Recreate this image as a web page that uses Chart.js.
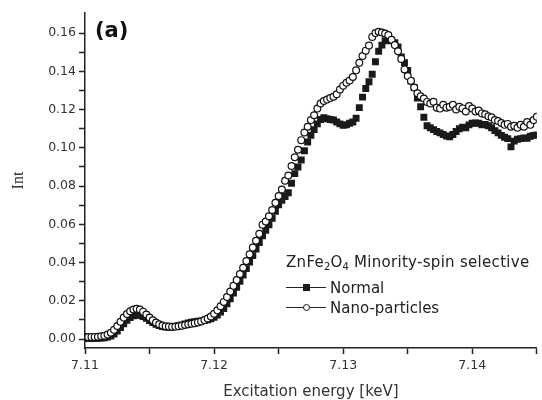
<!DOCTYPE html>
<html>
<head>
<meta charset="utf-8">
<script src="https://cdn.jsdelivr.net/npm/chart.js@4.4.1/dist/chart.umd.min.js"></script>
<style>
  body { margin: 0; background: #fff; }
  #wrap { position: relative; width: 542px; height: 400px; }
  #tag { position: absolute; left: 95px; top: 18px; font: bold 21px 'DejaVu Sans'; line-height: 25px; color: #111; }
  #legend { position: absolute; left: 286px; top: 251.5px; font-family: 'DejaVu Sans'; font-size: 15px; color: #222; line-height: 20px; white-space: nowrap; }
  #legend .title { margin-bottom: 6px; letter-spacing: 0.3px; }
  #legend sub { font-size: 10px; vertical-align: -3px; line-height: 0; letter-spacing: 0; }
  #legend .sym { display: inline-block; position: relative; width: 40px; height: 20px; vertical-align: top; margin-right: 4px; }
  #legend .sym::before { content: ""; position: absolute; left: 0; right: 0; top: 9px; height: 1px; background: #222; }
  #legend .sq, #legend .ci { position: absolute; left: 16.5px; top: 6px; width: 7px; height: 7px; box-sizing: border-box; }
  #legend .sq { background: #1a1a1a; }
  #legend .ci { background: #fff; border: 1.2px solid #111; border-radius: 50%; }
</style>
</head>
<body>
<div id="wrap">
  <canvas id="chart"></canvas>
  <div id="tag">(a)</div>
  <div id="legend">
    <div class="title">ZnFe<sub>2</sub>O<sub>4</sub> Minority-spin selective</div>
    <div><span class="sym"><i class="sq"></i></span>Normal</div>
    <div><span class="sym"><i class="ci"></i></span>Nano-particles</div>
  </div>
</div>
<script>
// excitation energy (keV)
const energy = [
  7.11000, 7.11025, 7.11050, 7.11075, 7.11100, 7.11125, 7.11150, 7.11175, 7.11200, 7.11225,
  7.11250, 7.11275, 7.11300, 7.11325, 7.11350, 7.11375, 7.11400, 7.11425, 7.11450, 7.11475,
  7.11500, 7.11525, 7.11550, 7.11575, 7.11600, 7.11625, 7.11650, 7.11675, 7.11700, 7.11725,
  7.11750, 7.11775, 7.11800, 7.11825, 7.11850, 7.11875, 7.11900, 7.11925, 7.11950, 7.11975,
  7.12000, 7.12025, 7.12050, 7.12075, 7.12100, 7.12125, 7.12150, 7.12175, 7.12200, 7.12225,
  7.12250, 7.12275, 7.12300, 7.12325, 7.12350, 7.12375, 7.12400, 7.12425, 7.12450, 7.12475,
  7.12500, 7.12525, 7.12550, 7.12575, 7.12600, 7.12625, 7.12650, 7.12675, 7.12700, 7.12725,
  7.12750, 7.12775, 7.12800, 7.12825, 7.12850, 7.12875, 7.12900, 7.12925, 7.12950, 7.12975,
  7.13000, 7.13025, 7.13050, 7.13075, 7.13100, 7.13125, 7.13150, 7.13175, 7.13200, 7.13225,
  7.13250, 7.13275, 7.13300, 7.13325, 7.13350, 7.13375, 7.13400, 7.13425, 7.13450, 7.13475,
  7.13500, 7.13525, 7.13550, 7.13575, 7.13600, 7.13625, 7.13650, 7.13675, 7.13700, 7.13725,
  7.13750, 7.13775, 7.13800, 7.13825, 7.13850, 7.13875, 7.13900, 7.13925, 7.13950, 7.13975,
  7.14000, 7.14025, 7.14050, 7.14075, 7.14100, 7.14125, 7.14150, 7.14175, 7.14200, 7.14225,
  7.14250, 7.14275, 7.14300, 7.14325, 7.14350, 7.14375, 7.14400, 7.14425, 7.14450, 7.14475,
  7.14500
];

const normal = [
  0.0003, 0.0003, 0.0003, 0.0004, 0.0004, 0.0005, 0.0007, 0.0010, 0.0016, 0.0026,
  0.0042, 0.0060, 0.0080, 0.0098, 0.0112, 0.0121, 0.0125, 0.0124, 0.0118, 0.0108,
  0.0097, 0.0086, 0.0077, 0.0070, 0.0065, 0.0062, 0.0061, 0.0062, 0.0065, 0.0069,
  0.0074, 0.0079, 0.0084, 0.0088, 0.0091, 0.0093, 0.0095, 0.0097, 0.0101, 0.0106,
  0.0114, 0.0125, 0.0141, 0.0160, 0.0184, 0.0211, 0.0240, 0.0270, 0.0302, 0.0335,
  0.0368, 0.0402, 0.0436, 0.0470, 0.0505, 0.0540, 0.0568, 0.0598, 0.0632, 0.0668,
  0.0702, 0.0725, 0.0745, 0.0765, 0.0815, 0.0865, 0.0900, 0.0936, 0.0985, 0.1030,
  0.1065, 0.1095, 0.1125, 0.1148, 0.1158, 0.1152, 0.1148, 0.1145, 0.1135, 0.1125,
  0.1118, 0.1120, 0.1128, 0.1135, 0.1155, 0.1210, 0.1265, 0.1310, 0.1345, 0.1385,
  0.1450, 0.1505, 0.1537, 0.1560, 0.1563, 0.1560, 0.1550, 0.1528, 0.1475, 0.1445,
  0.1405, 0.1350, 0.1315, 0.1260, 0.1215, 0.1160, 0.1115, 0.1105, 0.1095, 0.1085,
  0.1078, 0.1070, 0.1062, 0.1058, 0.1070, 0.1085, 0.1100, 0.1108, 0.1105, 0.1120,
  0.1128, 0.1130, 0.1128, 0.1120, 0.1122, 0.1115, 0.1105, 0.1090, 0.1078, 0.1065,
  0.1055, 0.1048, 0.1005, 0.1035, 0.1045, 0.1048, 0.1052, 0.1050, 0.1060, 0.1065,
  0.1067
];

const nano = [
  0.0010, 0.0010, 0.0011, 0.0011, 0.0012, 0.0014, 0.0017, 0.0023, 0.0033, 0.0048,
  0.0068, 0.0090, 0.0112, 0.0131, 0.0145, 0.0154, 0.0158, 0.0154, 0.0143, 0.0128,
  0.0112, 0.0098, 0.0086, 0.0077, 0.0071, 0.0067, 0.0065, 0.0064, 0.0065, 0.0067,
  0.0070, 0.0073, 0.0077, 0.0080, 0.0083, 0.0087, 0.0092, 0.0099, 0.0107, 0.0118,
  0.0132, 0.0150, 0.0171, 0.0194, 0.0220, 0.0248, 0.0278, 0.0308, 0.0340, 0.0373,
  0.0408, 0.0443, 0.0478, 0.0514, 0.0550, 0.0598, 0.0614, 0.0642, 0.0675, 0.0712,
  0.0748, 0.0782, 0.0828, 0.0855, 0.0905, 0.0950, 0.0990, 0.1040, 0.1080, 0.1110,
  0.1145, 0.1170, 0.1205, 0.1232, 0.1245, 0.1252, 0.1260, 0.1267, 0.1280, 0.1305,
  0.1325, 0.1340, 0.1352, 0.1370, 0.1405, 0.1445, 0.1480, 0.1508, 0.1535, 0.1580,
  0.1600, 0.1607, 0.1603, 0.1598, 0.1590, 0.1565, 0.1537, 0.1505, 0.1465, 0.1410,
  0.1375, 0.1350, 0.1315, 0.1285, 0.1270, 0.1258, 0.1240, 0.1232, 0.1241, 0.1210,
  0.1205, 0.1225, 0.1210, 0.1215, 0.1225, 0.1200, 0.1215, 0.1206, 0.1190, 0.1218,
  0.1205, 0.1190, 0.1195, 0.1180, 0.1175, 0.1165, 0.1160, 0.1145, 0.1140, 0.1130,
  0.1120, 0.1125, 0.1110, 0.1115, 0.1105, 0.1120, 0.1110, 0.1135, 0.1120, 0.1145,
  0.1162
];

const xTicks = [7.11, 7.115, 7.12, 7.125, 7.13, 7.135, 7.14, 7.145];
const xTickLabels = ["7.11", "", "7.12", "", "7.13", "", "7.14", ""];
const yTicks = [0, 0.01, 0.02, 0.03, 0.04, 0.05, 0.06, 0.07, 0.08, 0.09, 0.10, 0.11, 0.12, 0.13, 0.14, 0.15, 0.16];
const yTickLabels = ["0.00", "", "0.02", "", "0.04", "", "0.06", "", "0.08", "", "0.10", "", "0.12", "", "0.14", "", "0.16"];

const toPoints = ys => energy.map((x, i) => ({ x: x, y: ys[i] }));

const tickFont = { family: "DejaVu Sans", size: 12.5 };
const axisGrid = { drawOnChartArea: false, drawTicks: true, tickLength: 6, tickColor: "#222", tickWidth: 1.5 };
const axisBorder = { color: "#222", width: 1.5 };

new Chart(document.getElementById("chart"), {
  type: "scatter",
  data: {
    datasets: [
      {
        label: "Nano-particles",
        data: toPoints(nano),
        pointStyle: "circle",
        pointRadius: 3.4,
        pointBorderWidth: 1.2,
        pointBackgroundColor: "#fff",
        pointBorderColor: "#111",
        order: 0
      },
      {
        label: "Normal",
        data: toPoints(normal),
        pointStyle: "rect",
        pointRadius: 4.9,
        pointBorderWidth: 0,
        pointBackgroundColor: "#1a1a1a",
        pointBorderColor: "#1a1a1a",
        order: 1
      }
    ]
  },
  options: {
    responsive: true,
    maintainAspectRatio: false,
    animation: false,
    layout: { padding: { top: 13, right: 1, left: 0, bottom: 0 } },
    plugins: { legend: { display: false }, tooltip: { enabled: false } },
    scales: {
      x: {
        type: "linear",
        min: 7.11,
        max: 7.145,
        afterBuildTicks: s => { s.ticks = xTicks.map(v => ({ value: v })); },
        afterFit: s => { s.height = 52; },
        ticks: { callback: (v, i) => xTickLabels[i], font: tickFont, color: "#333", padding: 4, maxRotation: 0, autoSkip: false },
        grid: axisGrid,
        border: axisBorder,
        title: { display: true, text: "Excitation energy [keV]", font: { family: "DejaVu Sans", size: 15, lineHeight: 1 }, color: "#333", padding: { top: 0, bottom: 0 } }
      },
      y: {
        min: -0.0047,
        max: 0.1705,
        afterBuildTicks: s => { s.ticks = yTicks.map(v => ({ value: v })); },
        afterFit: s => { s.width = 85; },
        ticks: { callback: (v, i) => yTickLabels[i], font: tickFont, color: "#333", padding: 3, autoSkip: false },
        grid: axisGrid,
        border: axisBorder,
        title: { display: true, text: "Int", font: { family: "Liberation Serif", size: 16, lineHeight: 1.2 }, color: "#333", padding: { top: 9.4, bottom: 0 } }
      }
    }
  }
});
</script>
</body>
</html>
